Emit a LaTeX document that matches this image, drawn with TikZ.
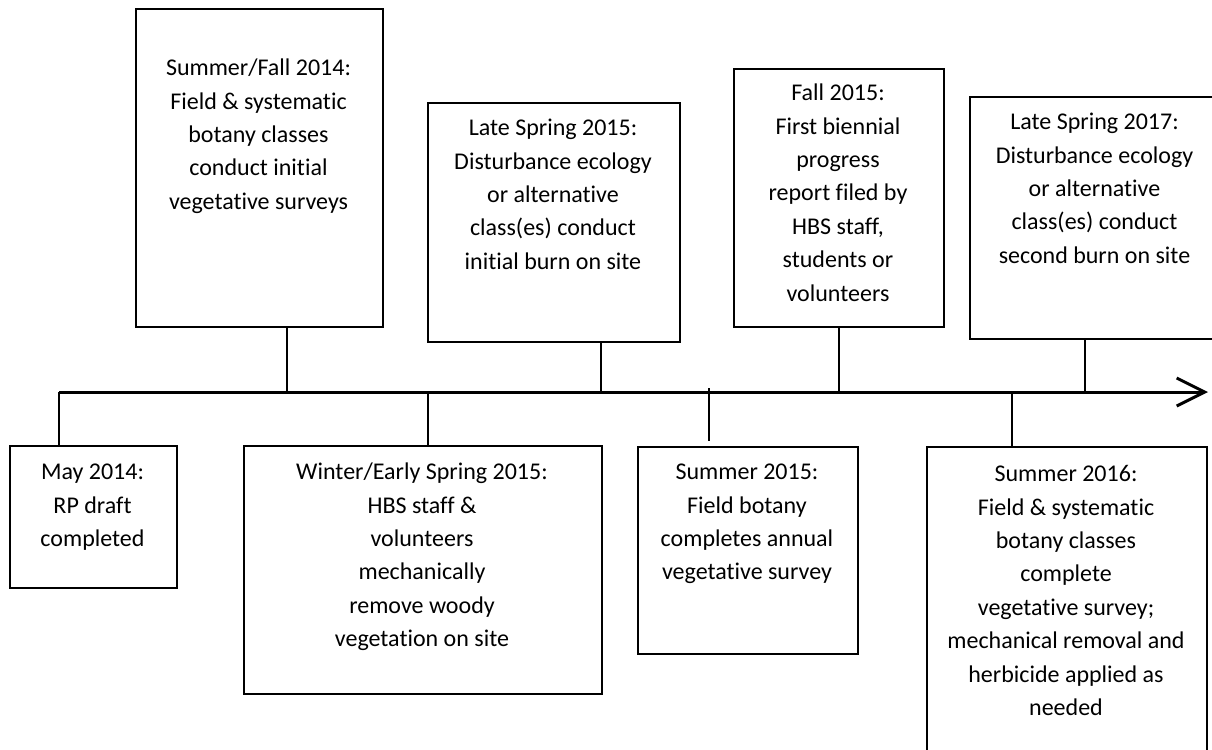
\documentclass[tikz,border=0pt]{standalone}
\usepackage{fontspec}
\setmainfont{Carlito}[Ligatures={NoCommon}]
\usetikzlibrary{arrows.meta}
\begin{document}
\begin{tikzpicture}[x=0.5pt, y=-0.5pt,
  box/.style={draw, line width=0.8pt, inner sep=0pt, anchor=north west},
  txt/.style={align=center, inner sep=0pt, anchor=north, font=\fontsize{12pt}{16.7pt}\selectfont},
  conn/.style={line width=0.75pt},
  axisline/.style={line width=1.5pt, -{Straight Barb[length=14pt, width=14pt]}}]
\useasboundingbox (0,0) rectangle (1212,750);
\clip (0,0) rectangle (1212,750);

% boxes above the line
\node[box, minimum width=123.5pt, minimum height=159pt] (b1) at (135,8) {};
\node[txt] (b1t) at (258.5,52) {\strut Summer/Fall 2014:\\Field \& systematic\\botany classes\\conduct initial\\vegetative surveys};

\node[box, minimum width=126pt, minimum height=119.5pt] (b2) at (427,102) {};
\node[txt] (b2t) at (553,112) {\strut Late Spring 2015:\\Disturbance ecology\\or alternative\\class(es) conduct\\initial burn on site};

\node[box, minimum width=105pt, minimum height=129pt] (b3) at (733,68) {};
\node[txt] (b3t) at (838,77) {\strut Fall 2015:\\First biennial\\progress\\report filed by\\HBS staff,\\students or\\volunteers};

\node[box, minimum width=125.5pt, minimum height=121pt] (b4) at (969,96) {};
\node[txt] (b4t) at (1094.5,106) {\strut Late Spring 2017:\\Disturbance ecology\\or alternative\\class(es) conduct\\second burn on site};

% boxes below the line
\node[box, minimum width=83.5pt, minimum height=71pt] (b5) at (9,445) {};
\node[txt] (b5t) at (92.5,456) {\strut May 2014:\\RP draft\\completed};

\node[box, minimum width=179pt, minimum height=124pt] (b6) at (243,445) {};
\node[txt] (b6t) at (422,456) {\strut Winter/Early Spring 2015:\\HBS staff \&\\volunteers\\mechanically\\remove woody\\vegetation on site};

\node[box, minimum width=110pt, minimum height=103.5pt] (b7) at (637,446) {};
\node[txt] (b7t) at (747,456) {\strut Summer 2015:\\Field botany\\completes annual\\vegetative survey};

\node[box, minimum width=140pt, minimum height=157pt] (b8) at (926,446) {};
\node[txt] (b8t) at (1066,458) {\strut Summer 2016:\\Field \& systematic\\botany classes\\complete\\vegetative survey;\\mechanical removal and\\herbicide applied as\\needed};

% timeline
\coordinate (t0) at (59,392);
\coordinate (t1) at (1208,392);
\draw[axisline] (t0) -- (t1);

% connectors above
\coordinate (a1) at (287,392);
\coordinate (a2) at (601,392);
\coordinate (a3) at (839,392);
\coordinate (a4) at (1085,392);
\draw[conn] (a1) -- (a1 |- b1.south);
\draw[conn] (a2) -- (a2 |- b2.south);
\draw[conn] (a3) -- (a3 |- b3.south);
\draw[conn] (a4) -- (a4 |- b4.south);

% connectors below
\coordinate (a6) at (428,392);
\coordinate (a7) at (709,388);
\coordinate (a8) at (1012,392);
\draw[conn] (t0) -- (t0 |- b5.north);
\draw[conn] (a6) -- (a6 |- b6.north);
\draw[conn] (a7) -- ([yshift=2.5pt]a7 |- b7.north);
\draw[conn] (a8) -- (a8 |- b8.north);
\end{tikzpicture}
\end{document}
